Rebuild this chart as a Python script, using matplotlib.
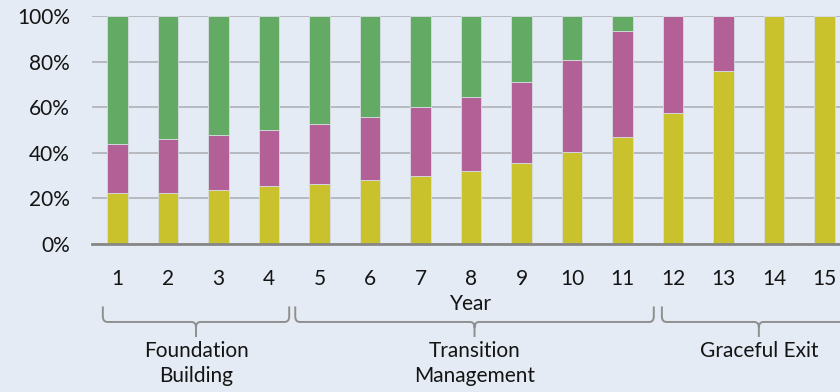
import matplotlib
matplotlib.use("Agg")
import matplotlib.pyplot as plt
from matplotlib.path import Path
from matplotlib.patches import PathPatch
from matplotlib.transforms import blended_transform_factory
from matplotlib.ticker import PercentFormatter

plt.rcParams['font.family'] = ['Lato', 'DejaVu Sans']

years = list(range(1, 16))
# share of each slice per year (percent)
yellow = [22.5, 22.5, 23.5, 25.5, 26.5, 28.0, 30.0, 32.0, 35.5, 40.5, 47.0, 57.5, 76.0, 100.0, 100.0]
magenta = [21.5, 23.5, 24.5, 24.5, 26.0, 27.5, 30.0, 32.5, 35.5, 40.0, 46.5, 42.5, 24.0, 0.0, 0.0]
green = [100 - a - b for a, b in zip(yellow, magenta)]

phases = [("Foundation\nBuilding", 0.71, 4.40),
          ("Transition\nManagement", 4.52, 11.62),
          ("Graceful Exit", 11.78, 15.62)]

BG = '#E4EBF4'
TXT = '#141414'
FS = 15


def draw_brace(ax, x0, x1, label):
    tr = blended_transform_factory(ax.transData, ax.transAxes)
    xm = (x0 + x1) / 2
    ytop, yh, ybot = -0.274, -0.342, -0.408
    rx, ry = 0.09, 0.025
    verts = [(x0, ytop), (x0, yh + ry), (x0, yh), (x0 + rx, yh),
             (xm - rx, yh), (xm, yh), (xm, yh - ry), (xm, ybot),
             (xm, yh - ry), (xm, yh), (xm + rx, yh),
             (x1 - rx, yh), (x1, yh), (x1, yh + ry), (x1, ytop)]
    codes = [Path.MOVETO, Path.LINETO, Path.CURVE3, Path.CURVE3,
             Path.LINETO, Path.CURVE3, Path.CURVE3, Path.LINETO,
             Path.MOVETO, Path.CURVE3, Path.CURVE3,
             Path.LINETO, Path.CURVE3, Path.CURVE3, Path.LINETO]
    patch = PathPatch(Path(verts, codes), fill=False, edgecolor='#8f8f8f',
                      linewidth=1.4, transform=tr, clip_on=False)
    ax.add_patch(patch)
    ax.text(xm, -0.425, label, transform=tr, ha='center', va='top',
            fontsize=FS, color=TXT, linespacing=1.3, clip_on=False)


fig = plt.figure(figsize=(8.4, 3.92), dpi=100, facecolor=BG)
ax = fig.add_axes([0.1098, 0.3776, 0.9018, 0.5816], facecolor=BG)

bw = 0.4
edge = dict(edgecolor='#d8dde3', linewidth=0.6, zorder=3)
ax.bar(years, yellow, bw, color='#C9C22D', **edge)
ax.bar(years, magenta, bw, bottom=yellow, color='#B36096', **edge)
ax.bar(years, green, bw, bottom=[a + b for a, b in zip(yellow, magenta)],
       color='#63AA65', **edge)

ax.set_xlim(0.5, 15.5)
ax.set_ylim(0, 100)
ax.set_yticks(range(0, 101, 20))
ax.yaxis.set_major_formatter(PercentFormatter(decimals=0))
ax.set_xticks(years)
ax.grid(axis='y', color='#AEB1B6', linewidth=1.2, zorder=0)
ax.set_axisbelow(True)
for s in ['top', 'right', 'left']:
    ax.spines[s].set_visible(False)
ax.spines['bottom'].set_color('#878787')
ax.spines['bottom'].set_linewidth(2)
ax.spines['bottom'].set_zorder(4)
ax.tick_params(axis='both', length=0, labelsize=FS, labelcolor=TXT)
ax.tick_params(axis='y', pad=16)
ax.tick_params(axis='x', pad=18)

ax.text(8.0, -0.265, "Year", transform=blended_transform_factory(ax.transData, ax.transAxes),
        ha='center', va='center', fontsize=FS, color=TXT)

for label, x0, x1 in phases:
    draw_brace(ax, x0, x1, label)

fig.savefig("out.png", dpi=100, facecolor=BG)
